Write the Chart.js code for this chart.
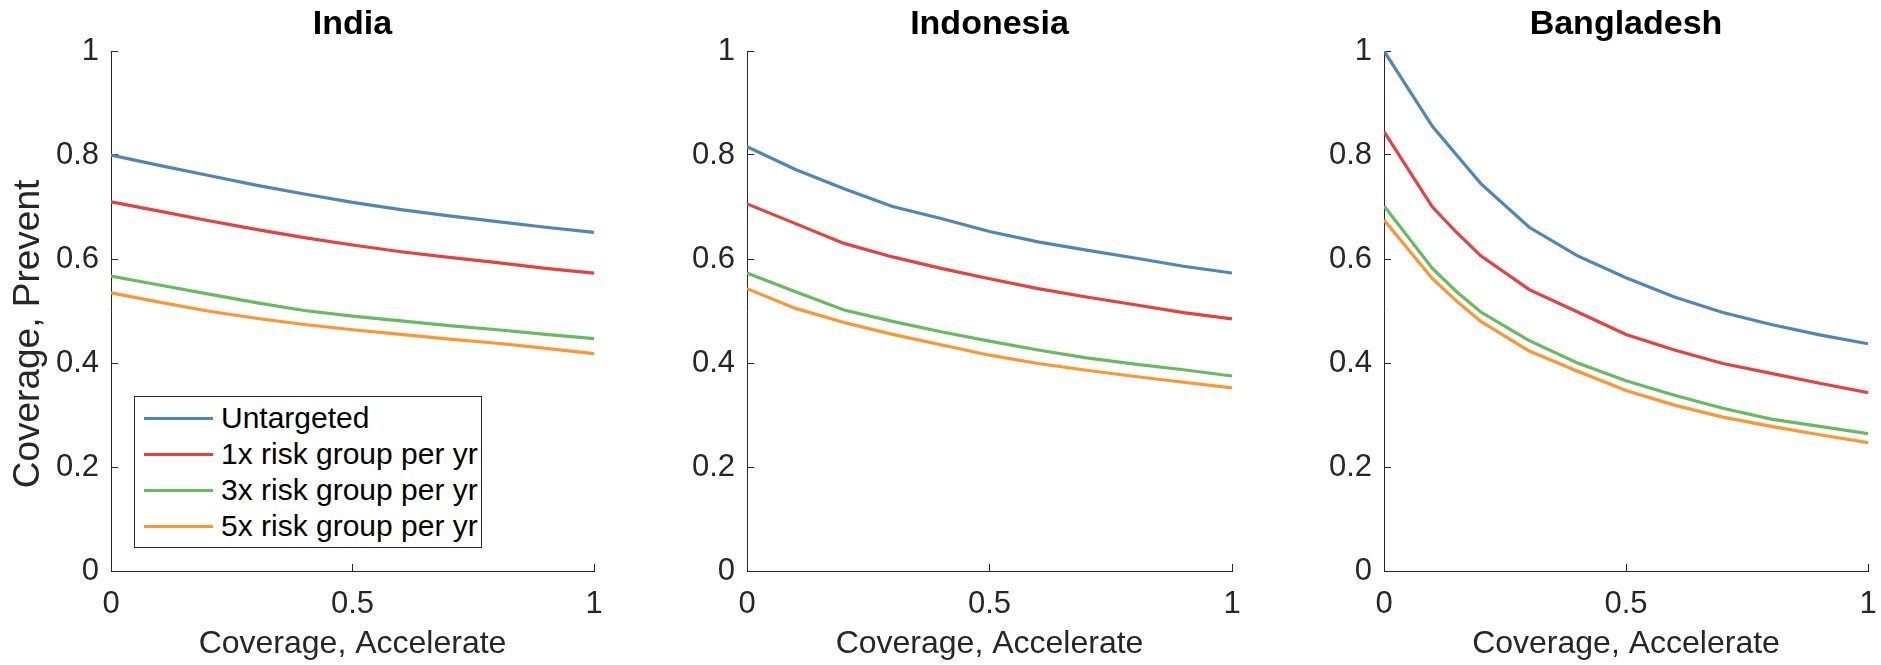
<!DOCTYPE html>
<html>
<head>
<meta charset="utf-8">
<title>Coverage, Prevent vs Accelerate</title>
<script src="https://cdn.jsdelivr.net/npm/chart.js@4.4.1/dist/chart.umd.min.js"></script>
<style>
  html, body { margin: 0; padding: 0; background: #fff; }
  #figure { position: relative; width: 1881px; height: 665px; overflow: hidden; font-family: "Liberation Sans", Arial, Helvetica, sans-serif; }
  .panel { position: absolute; top: 0; height: 665px; }
  .legend { position: absolute; left: 134px; top: 396px; width: 348px; height: 152px; box-sizing: border-box;
            border: 1px solid #262626; background: #fff; padding-top: 3px; }
  .legend-row { height: 36px; display: flex; align-items: center; font-size: 30px; color: #000; white-space: nowrap; }
  .legend-swatch { width: 69px; height: 3px; margin-left: 9px; margin-right: 8px; }
</style>
</head>
<body>
<div id="figure">
  <div class="panel" style="left:0px;width:640px"><canvas id="chartIndia" width="640" height="665"></canvas></div>
  <div class="panel" style="left:640px;width:640px"><canvas id="chartIndonesia" width="640" height="665"></canvas></div>
  <div class="panel" style="left:1280px;width:601px"><canvas id="chartBangladesh" width="601" height="665"></canvas></div>
  <div class="legend" id="legend"></div>
</div>
<script>
// series names and colours
var seriesNames = ['Untargeted', '1x risk group per yr', '3x risk group per yr', '5x risk group per yr'];
var seriesColors = ['#4e86b8', '#e6403f', '#66bb5f', '#ff9530'];

// axis ticks
var xTicks = [0, 0.5, 1];
var xTickLabels = ['0', '0.5', '1'];
var yTicks = [0, 0.2, 0.4, 0.6, 0.8, 1];
var yTickLabels = ['0', '0.2', '0.4', '0.6', '0.8', '1'];

// India
var indiaX = [0, 0.1, 0.2, 0.3, 0.4, 0.5, 0.6, 0.7, 0.8, 0.9, 1];
var indiaUntargeted = [0.800, 0.780, 0.761, 0.742, 0.725, 0.709, 0.695, 0.683, 0.672, 0.661, 0.651];
var india1x = [0.710, 0.692, 0.674, 0.657, 0.641, 0.627, 0.614, 0.603, 0.593, 0.582, 0.573];
var india3x = [0.567, 0.550, 0.533, 0.516, 0.501, 0.490, 0.481, 0.472, 0.464, 0.455, 0.447];
var india5x = [0.535, 0.517, 0.500, 0.486, 0.474, 0.464, 0.455, 0.446, 0.438, 0.428, 0.418];

// Indonesia
var indonesiaX = [0, 0.1, 0.2, 0.3, 0.4, 0.5, 0.6, 0.7, 0.8, 0.9, 1];
var indonesiaUntargeted = [0.816, 0.772, 0.735, 0.701, 0.678, 0.653, 0.633, 0.617, 0.602, 0.586, 0.573];
var indonesia1x = [0.706, 0.668, 0.630, 0.604, 0.582, 0.562, 0.543, 0.527, 0.512, 0.497, 0.485];
var indonesia3x = [0.573, 0.537, 0.502, 0.480, 0.460, 0.442, 0.425, 0.410, 0.398, 0.387, 0.375];
var indonesia5x = [0.543, 0.505, 0.478, 0.455, 0.435, 0.415, 0.399, 0.386, 0.374, 0.363, 0.352];

// Bangladesh
var bangladeshX = [0, 0.1, 0.15, 0.2, 0.3, 0.4, 0.5, 0.6, 0.7, 0.8, 0.9, 1];
var bangladeshUntargeted = [1.000, 0.855, 0.800, 0.745, 0.661, 0.606, 0.564, 0.527, 0.497, 0.474, 0.454, 0.437];
var bangladesh1x = [0.845, 0.700, 0.651, 0.606, 0.541, 0.498, 0.455, 0.425, 0.399, 0.380, 0.361, 0.343];
var bangladesh3x = [0.702, 0.582, 0.537, 0.498, 0.443, 0.400, 0.366, 0.338, 0.313, 0.292, 0.278, 0.264];
var bangladesh5x = [0.675, 0.562, 0.519, 0.480, 0.423, 0.384, 0.347, 0.319, 0.296, 0.278, 0.262, 0.247];

(function() {
  'use strict';

  var axisColor = '#262626';
  var fontFamily = '"Liberation Sans", Arial, Helvetica, sans-serif';

  // MATLAB style ylabel, only on the first panel
  var yLabelPlugin = {
    id: 'yLabel',
    afterDraw: function(chart, args, opts) {
      if (!opts || !opts.text) return;
      var ctx = chart.ctx;
      ctx.save();
      ctx.translate(opts.x, opts.y);
      ctx.rotate(-Math.PI / 2);
      ctx.font = opts.size + 'px ' + fontFamily;
      ctx.fillStyle = axisColor;
      ctx.textAlign = 'center';
      ctx.textBaseline = 'middle';
      ctx.fillText(opts.text, 0, 0);
      ctx.restore();
    }
  };

  function makePoints(xs, ys) {
    var pts = [];
    for (var i = 0; i < xs.length; i++) pts.push({ x: xs[i], y: ys[i] });
    return pts;
  }

  function buildChart(canvasId, title, xs, series, yAxisWidth, rightPad, yLabel) {
    var datasets = [];
    for (var i = 0; i < series.length; i++) {
      datasets.push({
        label: seriesNames[i],
        data: makePoints(xs, series[i]),
        borderColor: seriesColors[i],
        backgroundColor: seriesColors[i],
        borderWidth: 3.2,
        pointRadius: 0,
        tension: 0,
        fill: false
      });
    }

    return new Chart(document.getElementById(canvasId), {
      type: 'line',
      data: { datasets: datasets },
      plugins: [yLabelPlugin],
      options: {
        responsive: false,
        animation: false,
        layout: { padding: { left: 0, right: rightPad, top: 0, bottom: 0 } },
        plugins: {
          legend: { display: false },
          tooltip: { enabled: false },
          title: {
            display: true,
            text: title,
            fullSize: false,
            color: '#000',
            font: { family: fontFamily, size: 34, weight: 'bold', lineHeight: 1 },
            padding: { top: 8, bottom: 9 }
          },
          yLabel: yLabel
        },
        scales: {
          x: {
            type: 'linear',
            min: 0,
            max: 1,
            afterBuildTicks: function(scale) {
              scale.ticks = xTicks.map(function(v) { return { value: v }; });
            },
            afterFit: function(scale) {
              // keep the plot box where the figure has it
              scale.height = 94;
              scale.paddingLeft = 0;
              scale.paddingRight = 0;
            },
            ticks: {
              autoSkip: false,
              maxRotation: 0,
              color: axisColor,
              padding: 22,
              font: { family: fontFamily, size: 31 },
              callback: function(value, index) { return xTickLabels[index]; }
            },
            grid: { display: true, drawOnChartArea: false, drawTicks: true, tickLength: -7, color: axisColor, lineWidth: 1 },
            border: { display: true, color: axisColor, width: 1 },
            title: {
              display: true,
              text: 'Coverage, Accelerate',
              color: axisColor,
              font: { family: fontFamily, size: 32 },
              padding: { top: 0, bottom: 2 }
            }
          },
          y: {
            type: 'linear',
            min: 0,
            max: 1,
            afterBuildTicks: function(scale) {
              scale.ticks = yTicks.map(function(v) { return { value: v }; });
            },
            afterFit: function(scale) { scale.width = yAxisWidth; },
            ticks: {
              autoSkip: false,
              color: axisColor,
              padding: 19,
              font: { family: fontFamily, size: 31 },
              callback: function(value, index) { return yTickLabels[index]; }
            },
            grid: { display: true, drawOnChartArea: false, drawTicks: true, tickLength: -7, color: axisColor, lineWidth: 1 },
            border: { display: true, color: axisColor, width: 1 }
          }
        }
      }
    });
  }

  function buildLegend() {
    var box = document.getElementById('legend');
    var html = '';
    for (var i = 0; i < seriesNames.length; i++) {
      html += '<div class="legend-row"><span class="legend-swatch" style="background:' + seriesColors[i] + '"></span>' + seriesNames[i] + '</div>';
    }
    box.innerHTML = html;
  }

  buildChart('chartIndia', 'India', indiaX,
    [indiaUntargeted, india1x, india3x, india5x], 111, 46,
    { text: 'Coverage, Prevent', x: 29, y: 334, size: 37 });
  buildChart('chartIndonesia', 'Indonesia', indonesiaX,
    [indonesiaUntargeted, indonesia1x, indonesia3x, indonesia5x], 107, 48, null);
  buildChart('chartBangladesh', 'Bangladesh', bangladeshX,
    [bangladeshUntargeted, bangladesh1x, bangladesh3x, bangladesh5x], 104, 13, null);
  buildLegend();
})();
</script>
</body>
</html>
